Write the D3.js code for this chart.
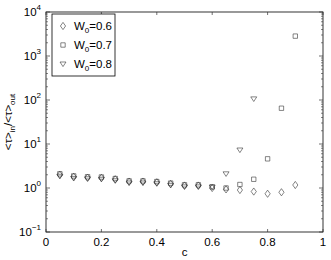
<!DOCTYPE html>
<html>
<head>
<meta charset="utf-8">
<script src="https://cdn.jsdelivr.net/npm/d3@7/dist/d3.min.js"></script>
<style>
  body { margin: 0; background: #fff; }
  svg { font-family: "Liberation Sans", Arial, sans-serif; }
</style>
</head>
<body>
<svg id="chart" width="331" height="260"></svg>
<script>
// data
const cLow = [0.05, 0.1, 0.15, 0.2, 0.25, 0.3, 0.35, 0.4, 0.45, 0.5, 0.55, 0.6];
const w06 = [2.0, 1.8, 1.72, 1.7, 1.58, 1.4, 1.4, 1.35, 1.24, 1.14, 1.14, 1.0,
             0.93, 0.9, 0.83, 0.74, 0.8, 1.17];
const w07 = [2.1, 1.88, 1.8, 1.78, 1.64, 1.45, 1.45, 1.4, 1.29, 1.18, 1.18, 1.06,
             1.0, 1.2, 1.58, 4.6, 65, 2830];
const w08 = [1.85, 1.65, 1.62, 1.58, 1.46, 1.3, 1.3, 1.25, 1.15, 1.06, 1.06, 1.05,
             2.1, 7.3, 106];
const cHigh = [0.65, 0.7, 0.75, 0.8, 0.85, 0.9];
const cVals = cLow.concat(cHigh);
const xTicks = [0, 0.2, 0.4, 0.6, 0.8, 1];
const yTicks = [-1, 0, 1, 2, 3, 4];

const margin = { top: 12, right: 8, bottom: 28, left: 46 };
const width = 331 - margin.left - margin.right;
const height = 260 - margin.top - margin.bottom;

const svg = d3.select('#chart');
const g = svg.append('g').attr('transform', 'translate(' + margin.left + ',' + margin.top + ')');

const x = d3.scaleLinear().domain([0, 1]).range([0, width]);
const y = d3.scaleLog().domain([0.1, 10000]).range([height, 0]);

// frame
g.append('rect').attr('width', width).attr('height', height)
  .attr('fill', 'none').attr('stroke', '#000').attr('stroke-width', 0.8);

// x ticks (inward, bottom + top)
const tickColor = '#333';
xTicks.forEach(t => {
  g.append('line').attr('x1', x(t)).attr('x2', x(t)).attr('y1', height).attr('y2', height - 3)
    .attr('stroke', tickColor).attr('stroke-width', 0.7);
  g.append('line').attr('x1', x(t)).attr('x2', x(t)).attr('y1', 0).attr('y2', 3)
    .attr('stroke', tickColor).attr('stroke-width', 0.7);
  g.append('text').attr('x', x(t)).attr('y', height + 14).attr('text-anchor', 'middle')
    .attr('font-size', 11.5).text(String(t));
});

// y ticks: majors + minors, left and right
for (let e = -1; e <= 4; e++) {
  const v = Math.pow(10, e);
  [[0, 4], [width, width - 4]].forEach(([a, b]) => {
    g.append('line').attr('x1', a).attr('x2', b).attr('y1', y(v)).attr('y2', y(v))
      .attr('stroke', tickColor).attr('stroke-width', 0.7);
  });
  if (e < 4) {
    for (let m = 2; m <= 9; m++) {
      const mv = m * v;
      [[0, 2], [width, width - 2]].forEach(([a, b]) => {
        g.append('line').attr('x1', a).attr('x2', b).attr('y1', y(mv)).attr('y2', y(mv))
          .attr('stroke', tickColor).attr('stroke-width', 0.6);
      });
    }
  }
}
yTicks.forEach(e => {
  const t = g.append('text').attr('x', -5).attr('y', y(Math.pow(10, e)) + 4)
    .attr('text-anchor', 'end').attr('font-size', 11.5);
  t.append('tspan').text('10');
  t.append('tspan').attr('dy', -6).attr('font-size', 8).text(String(e).replace('-', '\u2212'));
});

// axis labels
svg.append('text').attr('x', margin.left + x(0.5)).attr('y', 256).attr('text-anchor', 'middle')
  .attr('font-size', 11.5).text('c');

const yl = svg.append('text').attr('transform', 'translate(12,' + (margin.top + height / 2) + ') rotate(-90)')
  .attr('text-anchor', 'middle').attr('font-size', 11.5);
yl.append('tspan').text('<\u03c4>');
yl.append('tspan').attr('dy', 3).attr('font-size', 8).text('in');
yl.append('tspan').attr('dy', -3).text('/<\u03c4>');
yl.append('tspan').attr('dy', 3).attr('font-size', 8).text('out');

// markers
const mk = {
  diamond: 'M0,-3.6L2.6,0L0,3.6L-2.6,0Z',
  square: 'M-2.2,-2.2H2.2V2.2H-2.2Z',
  triangle: 'M-3,-2H3L0,2.6Z'
};
const series = [
  { name: '0.6', values: w06, shape: mk.diamond },
  { name: '0.7', values: w07, shape: mk.square },
  { name: '0.8', values: w08, shape: mk.triangle }
];

series.forEach(s => {
  g.selectAll(null).data(s.values.map((v, i) => [cVals[i], v])).enter()
    .append('path').attr('d', s.shape)
    .attr('transform', d => 'translate(' + x(d[0]) + ',' + y(d[1]) + ')')
    .attr('fill', 'none').attr('stroke', '#333').attr('stroke-width', 0.6);
});

// legend
const lg = svg.append('g').attr('transform', 'translate(52,14)');
lg.append('rect').attr('width', 63).attr('height', 62)
  .attr('fill', '#fff').attr('stroke', '#000').attr('stroke-width', 0.8);
series.forEach((s, i) => {
  const yy = 12 + i * 19;
  lg.append('path').attr('d', s.shape).attr('transform', 'translate(11,' + yy + ')')
    .attr('fill', 'none').attr('stroke', '#333').attr('stroke-width', 0.6);
  const t = lg.append('text').attr('x', 22).attr('y', yy + 4).attr('font-size', 11.5);
  t.append('tspan').text('W');
  t.append('tspan').attr('dy', 3).attr('font-size', 8).text('0');
  t.append('tspan').attr('dy', -3).text('=' + s.name);
});
</script>
</body>
</html>
